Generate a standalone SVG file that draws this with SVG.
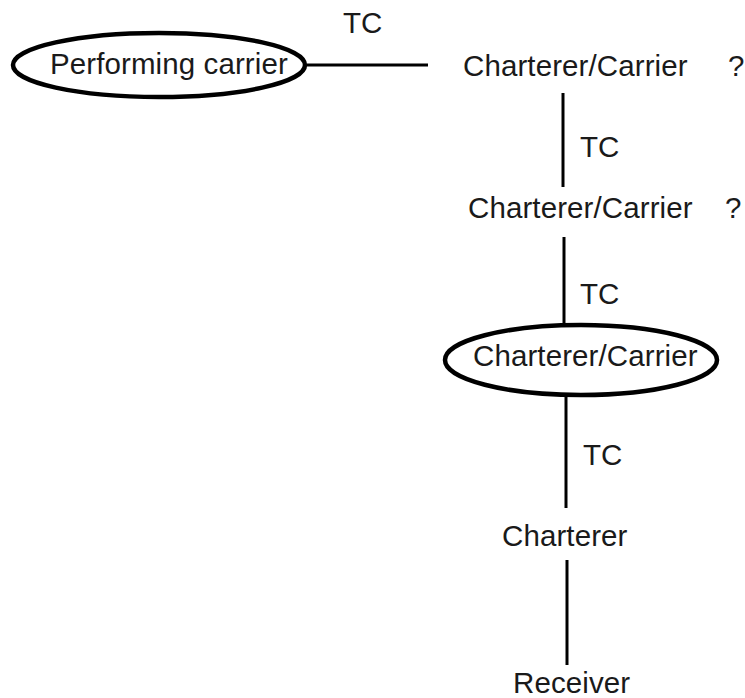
<svg xmlns="http://www.w3.org/2000/svg" width="745" height="698" viewBox="0 0 745 698">
<style>
text{font-family:"Liberation Sans",Arial,sans-serif;font-size:29.5px;letter-spacing:0.1px;fill:#1a1a1a}
.conn line{stroke:#000;stroke-width:3}
ellipse{fill:none;stroke:#000;stroke-width:4.5}
</style>
<rect width="745" height="698" fill="#fff"/>
<g id="connectors" class="conn">
<line x1="307" y1="65" x2="428" y2="65"/>
<line x1="563" y1="93" x2="563" y2="187"/>
<line x1="564" y1="237" x2="564" y2="325"/>
<line x1="566" y1="395" x2="566" y2="508"/>
<line x1="567" y1="560" x2="567" y2="665"/>
</g>
<g id="labels">
<text x="343" y="33">TC</text>
<text x="580" y="157">TC</text>
<text x="580" y="304">TC</text>
<text x="583" y="465">TC</text>
</g>
<g id="performing-carrier">
<ellipse cx="159" cy="65" rx="146" ry="32"/>
<text x="50" y="74">Performing carrier</text>
</g>
<g id="charterer-carrier-1">
<text x="463" y="76">Charterer/Carrier</text>
<text x="728" y="76">?</text>
</g>
<g id="charterer-carrier-2">
<text x="468" y="218">Charterer/Carrier</text>
<text x="725" y="218">?</text>
</g>
<g id="charterer-carrier-3">
<ellipse cx="581" cy="360" rx="136" ry="35"/>
<text x="473" y="366">Charterer/Carrier</text>
</g>
<g id="charterer">
<text x="502" y="546">Charterer</text>
</g>
<g id="receiver">
<text x="513" y="693">Receiver</text>
</g>
</svg>
